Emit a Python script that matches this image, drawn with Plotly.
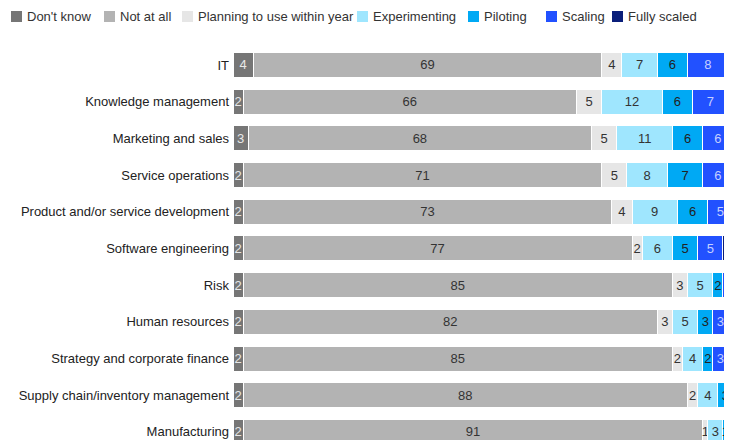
import plotly.graph_objects as go

categories = [
    "IT",
    "Knowledge management",
    "Marketing and sales",
    "Service operations",
    "Product and/or service development",
    "Software engineering",
    "Risk",
    "Human resources",
    "Strategy and corporate finance",
    "Supply chain/inventory management",
    "Manufacturing",
]

series_names = ["Don't know", "Not at all", "Planning to use within year",
                "Experimenting", "Piloting", "Scaling", "Fully scaled"]

dont_know = [4, 2, 3, 2, 2, 2, 2, 2, 2, 2, 2]
not_at_all = [69, 66, 68, 71, 73, 77, 85, 82, 85, 88, 91]
planning = [4, 5, 5, 5, 4, 2, 3, 3, 2, 2, 1]
experimenting = [7, 12, 11, 8, 9, 6, 5, 5, 4, 4, 3]
piloting = [6, 6, 6, 7, 6, 5, 2, 3, 2, 3, 1]
scaling = [8, 7, 6, 6, 5, 5, 4, 3, 3, 2, 1]
fully_scaled = [2, 2, 1, 1, 1, 2, 1, 2, 2, 1, 1]

values = [dont_know, not_at_all, planning, experimenting, piloting, scaling, fully_scaled]

colors = ["#767676", "#b3b3b3", "#e6e6e6", "#9fe6fe", "#00a9f4", "#2251ff", "#0a1e7a"]
text_colors = ["#e8e8e8", "#333333", "#333333", "#333333", "#222222", "#c6d0ff", "#ffffff"]

FONT = "Liberation Sans"
OFF = 8  # page body margin
W, H = 732 - OFF, 440 - OFF
ML, MR, MT, MB = 233 - OFF, 0, 40 - OFF, 0
PW, PH = W - ML - MR, H - MT - MB

fig = go.Figure()
for name, vals, c, tc in zip(series_names, values, colors, text_colors):
    fig.add_trace(go.Bar(
        y=categories, x=vals, name=name, orientation="h",
        marker=dict(color=c, line=dict(color="white", width=1)),
        text=[str(v) for v in vals], textposition="inside",
        insidetextanchor="middle", textangle=0,
        textfont=dict(family=FONT, size=13, color=tc),
        showlegend=False, hoverinfo="skip",
    ))

# manual legend (positions given in page pixels)
def px_to_paper_x(px):
    return (px - OFF - ML) / PW

def py_to_paper_y(py):
    return (H - (py - OFF)) / PH

legend_text_x = [27, 120, 198, 373, 484, 562, 628]
shapes = []
annotations = []
for name, c, tx in zip(series_names, colors, legend_text_x):
    shapes.append(dict(type="rect", xref="paper", yref="paper",
                       x0=px_to_paper_x(tx - 16), x1=px_to_paper_x(tx - 5),
                       y0=py_to_paper_y(22), y1=py_to_paper_y(11),
                       fillcolor=c, line=dict(width=0)))
    annotations.append(dict(xref="paper", yref="paper", x=px_to_paper_x(tx - 2),
                            y=py_to_paper_y(16.5), xanchor="left", yanchor="middle",
                            text=name, showarrow=False,
                            font=dict(family=FONT, size=13, color="#333333")))

fig.update_layout(
    template="none",
    width=W, height=H,
    margin=dict(l=ML, r=MR, t=MT, b=MB, autoexpand=False),
    barmode="stack", bargap=0.32,
    plot_bgcolor="white", paper_bgcolor="white",
    font=dict(family=FONT, size=13, color="#222222"),
    uniformtext=dict(minsize=13, mode="show"),
    shapes=shapes, annotations=annotations,
    showlegend=False,
)
fig.update_xaxes(range=[0, 98.8], visible=False, fixedrange=True, automargin=False)
fig.update_yaxes(type="category", range=[10.22, -0.68], showgrid=False,
                 showline=False, zeroline=False, ticks="", automargin=False,
                 ticklabelstandoff=3,
                 tickfont=dict(family=FONT, size=13, color="#222222"))

fig.write_html("out.html")
